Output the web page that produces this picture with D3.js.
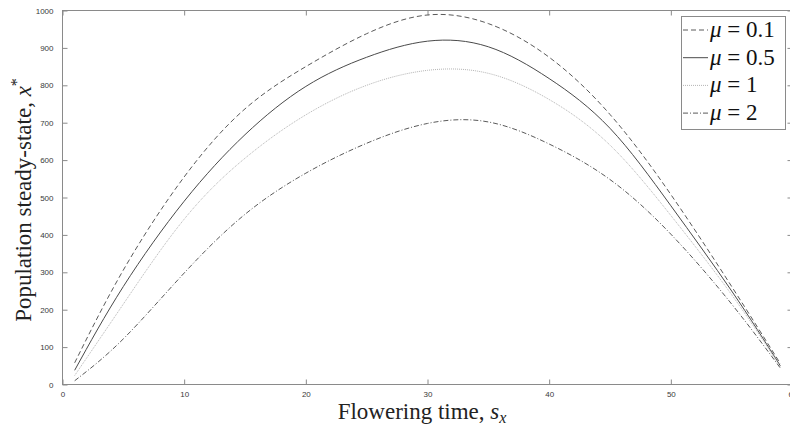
<!DOCTYPE html>
<html>
<head>
<meta charset="utf-8">
<script src="https://cdn.jsdelivr.net/npm/d3@7"></script>
<style>
  body { margin: 0; background: #fff; }
  svg { display: block; }
</style>
</head>
<body>
<div id="chart"></div>
<script>
// flowering time
var sx = [1, 5, 10, 15, 20, 25, 30, 35, 40, 45, 50, 55, 59];

var mu01 = [58, 306, 555, 737, 850, 938, 988, 965, 875, 722, 508, 262, 56];
var mu05 = [38, 262, 490, 668, 797, 875, 918, 903, 818, 685, 478, 250, 50];
var mu1  = [24, 215, 442, 605, 721, 800, 840, 832, 762, 640, 452, 240, 47];
var mu2  = [10, 122, 298, 455, 565, 645, 698, 702, 643, 548, 402, 215, 44];

var labels = ["0.1", "0.5", "1", "2"];
var xTicks = [0, 10, 20, 30, 40, 50, 60];
var yTicks = [0, 100, 200, 300, 400, 500, 600, 700, 800, 900, 1000];

var width = 790, height = 427;
var margin = { top: 10.5, left: 62.5, bottom: 42.5 };
var plotRight = 792.5;

var svg = d3.select("#chart").append("svg")
  .attr("width", width)
  .attr("height", height);

var x = d3.scaleLinear().domain([0, 60]).range([margin.left, plotRight]);
var y = d3.scaleLinear().domain([0, 1000]).range([height - margin.bottom, margin.top]);

var axisColor = "#8a8a8a";
var tickFont = "8px 'Liberation Sans', Arial, sans-serif";

// box with ticks on every side (matlab style)
svg.append("rect")
  .attr("x", x(0)).attr("y", y(1000))
  .attr("width", x(60) - x(0)).attr("height", y(0) - y(1000))
  .style("fill", "none").style("stroke", axisColor).style("stroke-width", 1);

var bottomAxis = svg.append("g")
  .attr("transform", "translate(0," + y(0) + ")")
  .call(d3.axisBottom(x).tickValues(xTicks).tickSizeInner(-5).tickSizeOuter(0).tickPadding(7).tickFormat(d3.format("d")));
var topAxis = svg.append("g")
  .attr("transform", "translate(0," + y(1000) + ")")
  .call(d3.axisTop(x).tickValues(xTicks).tickSizeInner(-5).tickSizeOuter(0).tickFormat(""));
var leftAxis = svg.append("g")
  .attr("transform", "translate(" + x(0) + ",0)")
  .call(d3.axisLeft(y).tickValues(yTicks).tickSizeInner(-5).tickSizeOuter(0).tickPadding(9).tickFormat(d3.format("d")));
var rightAxis = svg.append("g")
  .attr("transform", "translate(" + x(60) + ",0)")
  .call(d3.axisRight(y).tickValues(yTicks).tickSizeInner(-5).tickSizeOuter(0).tickFormat(""));

[bottomAxis, topAxis, leftAxis, rightAxis].forEach(function (g) {
  g.select(".domain").remove();
  g.selectAll("line").style("stroke", axisColor);
  g.selectAll("text").style("font", tickFont).style("fill", "#3a3a3a");
});

// curves
var series = [
  { values: mu01, stroke: "#5a5a5a", dash: "5,3", width: 1 },
  { values: mu05, stroke: "#4a4a4a", dash: null, width: 1 },
  { values: mu1,  stroke: "#b4b4b4", dash: "1,1", width: 1 },
  { values: mu2,  stroke: "#5a5a5a", dash: "5,2,1,2", width: 1 }
];

var line = d3.line()
  .x(function (d) { return x(d.s); })
  .y(function (d) { return y(d.v); })
  .curve(d3.curveNatural);

series.forEach(function (ser) {
  var pts = sx.map(function (s, i) { return { s: s, v: ser.values[i] }; });
  svg.append("path")
    .datum(pts)
    .attr("d", line)
    .style("fill", "none")
    .style("stroke", ser.stroke)
    .style("stroke-width", ser.width)
    .style("stroke-dasharray", ser.dash);
});

// axis titles
var serif = "'Liberation Serif', 'DejaVu Serif', serif";

var xt = svg.append("text")
  .attr("x", 422).attr("y", 419)
  .attr("text-anchor", "middle")
  .style("font-family", serif).style("font-size", "23px").style("fill", "#222");
xt.append("tspan").text("Flowering time, ");
xt.append("tspan").style("font-style", "italic").text("s");
xt.append("tspan").style("font-style", "italic").style("font-size", "16px").attr("dy", 4).text("x");

var yt = svg.append("text")
  .attr("transform", "translate(31,200) rotate(-90)")
  .attr("text-anchor", "middle")
  .style("font-family", serif).style("font-size", "23px").style("fill", "#222");
yt.append("tspan").text("Population steady-state, ");
yt.append("tspan").style("font-style", "italic").text("x");
yt.append("tspan").style("font-size", "16px").attr("dy", -9).text("*");

// legend
var lg = svg.append("g");
lg.append("rect")
  .attr("x", 681.5).attr("y", 16.5)
  .attr("width", 104).attr("height", 113)
  .style("fill", "#fff").style("stroke", axisColor);

series.forEach(function (ser, i) {
  var cy = 30 + i * 27.7;
  lg.append("line")
    .attr("x1", 683).attr("x2", 708)
    .attr("y1", cy).attr("y2", cy)
    .style("stroke", ser.stroke)
    .style("stroke-width", ser.width)
    .style("stroke-dasharray", ser.dash);
  var t = lg.append("text")
    .attr("x", 710).attr("y", cy + 7)
    .style("font-family", serif).style("font-size", "23px").style("fill", "#111");
  t.append("tspan").style("font-style", "italic").text("\u03bc");
  t.append("tspan").text(" = " + labels[i]);
});
</script>
</body>
</html>
